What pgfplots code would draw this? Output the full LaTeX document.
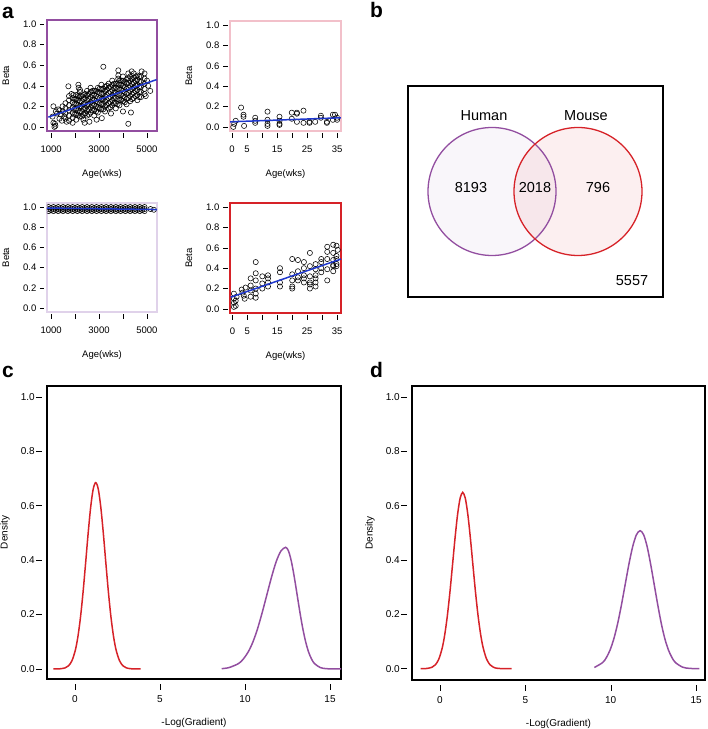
\documentclass[border=0pt]{standalone}
\usepackage{pgfplots}
\pgfplotsset{compat=1.18}
\usepackage{fontspec}
\setmainfont{Liberation Sans}
\definecolor{rpurple}{RGB}{146,78,160}
\definecolor{rred}{RGB}{214,34,40}
\definecolor{rpink}{RGB}{242,192,202}
\definecolor{rlav}{RGB}{224,210,234}
\definecolor{rblue}{RGB}{30,55,205}
\pgfplotsset{
  rbase/.style={scale only axis, tick pos=left, tick align=outside,
    tick style={black, line width=0.5pt},
    /pgf/number format/assume math mode=true,
    clip marker paths=true},
  small/.style={rbase, ymin=-0.04, ymax=1.04,
    ytick={0,0.2,0.4,0.6,0.8,1.0}, yticklabels={0.0,0.2,0.4,0.6,0.8,1.0},
    major tick length=4.5pt,
    x tick style={yshift=-2.5pt}, y tick style={xshift=-2.5pt},
    tick label style={font=\fontsize{9.5}{11}\selectfont},
    xticklabel style={anchor=north, inner sep=0pt, yshift=-10.5pt},
    yticklabel style={anchor=east, inner sep=0pt, xshift=-6pt},
    xlabel={Age(wks)}, ylabel={Beta},
    label style={font=\fontsize{9.5}{11}\selectfont},
    xlabel style={at={([yshift=-43pt]axis description cs:0.5,0)}, anchor=center},
    ylabel style={at={([xshift=-41pt]axis description cs:0,0.5)}, anchor=center}},
  dens/.style={rbase, xtick={0,5,10,15},
    ytick={0,0.2,0.4,0.6,0.8,1.0}, yticklabels={0.0,0.2,0.4,0.6,0.8,1.0},
    xticklabels={0,5,10,15},
    major tick length=6pt,
    x tick style={yshift=-4.5pt}, y tick style={xshift=-5pt},
    axis line style={black, line width=1.6pt},
    tick label style={font=\fontsize{10}{12}\selectfont},
    xticklabel style={anchor=north, inner sep=0pt, yshift=-10.5pt},
    yticklabel style={anchor=east, inner sep=0pt, xshift=-6pt},
    xlabel={-Log(Gradient)}, ylabel={Density},
    label style={font=\fontsize{10}{12}\selectfont},
    xlabel style={at={([yshift=-44pt]axis description cs:0.5,0)}, anchor=center},
    ylabel style={at={([xshift=-42pt]axis description cs:0,0.5)}, anchor=center}},
  scat/.style={only marks, mark=o, mark size=2.6pt, mark options={black, line width=0.55pt}},
  fit/.style={rblue, line width=1.5pt, no marks},
}
\begin{document}
\begin{tikzpicture}
\path[use as bounding box] (0,0) rectangle (708pt,729pt);
% ---------- a: top left (human, aging) ----------
\begin{axis}[small, at={(47pt,598pt)}, anchor=south west, width=110pt, height=111pt,
  xmin=830, xmax=5420, xtick={1000,2000,3000,4000,5000}, xticklabels={1000,,3000,,5000},
  axis line style={rpurple, line width=1.2pt}]
\addplot[scat] coordinates {
(1060,0.10)(1097,0.20)(1097,0.04)(1139,0.00)(1180,0.01)(1160,0.03)(1250,0.13)(1300,0.17)
(1350,0.08)(1400,0.12)(1450,0.06)(1500,0.15)(1550,0.10)(1480,0.20)(1650,0.05)(1722,0.395)
(1750,0.30)(1850,0.32)(1200,0.15)(1350,0.16)
(1600,0.08)(1600,0.13)(1600,0.18)(1600,0.23)
(1750,0.06)(1750,0.11)(1750,0.16)(1750,0.21)(1750,0.26)
(1900,0.04)(1900,0.09)(1900,0.14)(1900,0.19)(1900,0.24)(1900,0.28)
(1975,0.12)(1975,0.17)(1975,0.22)(1975,0.27)
(2050,0.07)(2050,0.12)(2050,0.17)(2050,0.22)(2050,0.27)(2050,0.31)
(2200,0.10)(2200,0.15)(2200,0.20)(2200,0.25)(2200,0.30)(2200,0.34)
(2350,0.07)(2350,0.12)(2350,0.17)(2350,0.22)(2350,0.27)(2350,0.31)
(2500,0.11)(2500,0.16)(2500,0.21)(2500,0.26)(2500,0.31)(2500,0.35)
(2650,0.14)(2650,0.19)(2650,0.24)(2650,0.29)(2650,0.34)(2650,0.38)
(2800,0.11)(2800,0.16)(2800,0.21)(2800,0.26)(2800,0.31)(2800,0.35)
(2950,0.14)(2950,0.19)(2950,0.24)(2950,0.29)(2950,0.34)(2950,0.38)
(3100,0.17)(3100,0.22)(3100,0.27)(3100,0.32)(3100,0.37)(3100,0.41)
(3250,0.15)(3250,0.20)(3250,0.25)(3250,0.30)(3250,0.35)(3250,0.39)
(3400,0.18)(3400,0.23)(3400,0.28)(3400,0.33)(3400,0.38)(3400,0.42)
(3550,0.21)(3550,0.26)(3550,0.31)(3550,0.36)(3550,0.41)(3550,0.45)
(3700,0.18)(3700,0.23)(3700,0.28)(3700,0.33)(3700,0.38)(3700,0.42)
(3850,0.21)(3850,0.26)(3850,0.31)(3850,0.36)(3850,0.41)(3850,0.45)
(4000,0.25)(4000,0.30)(4000,0.35)(4000,0.40)(4000,0.45)(4000,0.49)
(4150,0.22)(4150,0.27)(4150,0.32)(4150,0.37)(4150,0.42)(4150,0.46)
(4300,0.25)(4300,0.30)(4300,0.35)(4300,0.40)(4300,0.45)(4300,0.49)
(4450,0.28)(4450,0.33)(4450,0.38)(4450,0.43)(4450,0.48)(4450,0.52)
(4600,0.26)(4600,0.31)(4600,0.36)(4600,0.41)(4600,0.46)(4600,0.50)
(4750,0.29)(4750,0.34)(4750,0.39)(4750,0.44)(4750,0.49)
(4900,0.32)(4900,0.37)(4900,0.42)(4900,0.47)
(2125,0.11)(2125,0.16)(2125,0.21)(2125,0.26)(2125,0.30)
(2425,0.13)(2425,0.18)(2425,0.23)(2425,0.28)(2425,0.32)
(2725,0.16)(2725,0.21)(2725,0.26)(2725,0.31)(2725,0.35)
(3025,0.18)(3025,0.23)(3025,0.28)(3025,0.33)(3025,0.37)
(3325,0.21)(3325,0.26)(3325,0.31)(3325,0.36)(3325,0.40)
(3625,0.23)(3625,0.28)(3625,0.33)(3625,0.38)(3625,0.42)
(3925,0.26)(3925,0.31)(3925,0.36)(3925,0.41)(3925,0.45)
(4225,0.28)(4225,0.33)(4225,0.38)(4225,0.43)(4225,0.47)
(4525,0.30)(4525,0.35)(4525,0.40)(4525,0.45)(4525,0.49)
(2275,0.10)(2275,0.15)(2275,0.20)(2275,0.25)(2275,0.30)
(2575,0.12)(2575,0.17)(2575,0.22)(2575,0.27)(2575,0.32)
(2875,0.15)(2875,0.20)(2875,0.25)(2875,0.30)(2875,0.35)
(3175,0.17)(3175,0.22)(3175,0.27)(3175,0.32)(3175,0.37)
(3475,0.19)(3475,0.24)(3475,0.29)(3475,0.34)(3475,0.39)
(3775,0.22)(3775,0.27)(3775,0.32)(3775,0.37)(3775,0.42)
(4075,0.24)(4075,0.29)(4075,0.34)(4075,0.39)(4075,0.44)
(4375,0.27)(4375,0.32)(4375,0.37)(4375,0.42)(4375,0.47)
(4675,0.29)(4675,0.34)(4675,0.39)(4675,0.44)(4675,0.49)
(3180,0.585)(3806,0.55)(3806,0.50)(3800,0.47)(2139,0.41)(2150,0.38)(1930,0.31)(2208,0.36)
(3118,0.085)(4222,0.03)(4333,0.14)(5139,0.35)(4778,0.54)(4361,0.54)(4222,0.52)(4900,0.52)
(5000,0.45)(5050,0.40)(4950,0.30)(2600,0.05)(2900,0.07)(3500,0.13)(4000,0.15)(2400,0.04)
};
\addplot[fit] coordinates {(887,0.095) (5404,0.46)};
\end{axis}
% ---------- a: top right (mouse, null) ----------
\begin{axis}[small, at={(230pt,598pt)}, anchor=south west, width=111pt, height=110pt,
  xmin=-0.7, xmax=36.3, xtick={0,5,10,15,20,25,30,35}, xticklabels={0,5,,15,,25,,35},
  axis line style={rpink, line width=1.2pt}]
\addplot[scat] coordinates {
(0.4,0.00)(0.7,0.03)(1.2,0.06)(3,0.19)(3.8,0.12)(3.8,0.10)(4,0.01)
(7.7,0.09)(7.7,0.06)(7.7,0.04)(11.8,0.15)(11.8,0.07)(11.8,0.03)(11.8,0.01)
(15.8,0.10)(15.8,0.06)(15.8,0.03)(15.8,0.02)(19.9,0.14)(19.9,0.08)
(21.6,0.13)(21.6,0.14)(21.6,0.05)(23.8,0.16)(23.8,0.04)(25.8,0.05)(25.8,0.04)
(27.7,0.05)(29.6,0.11)(29.6,0.09)(31.6,0.04)(31.6,0.05)(33.6,0.12)(33.6,0.07)
(34.3,0.12)(35,0.09)(35,0.07)
};
\addplot[fit] coordinates {(-0.7,0.05) (36.3,0.09)};
\end{axis}
% ---------- a: bottom left (human, constant) ----------
\begin{axis}[small, at={(47pt,417pt)}, anchor=south west, width=110pt, height=109pt,
  xmin=830, xmax=5420, xtick={1000,2000,3000,4000,5000}, xticklabels={1000,,3000,,5000},
  axis line style={rlav, line width=1.2pt}]
\addplot[scat] coordinates {
(900,0.96)(900,0.98)(900,1.00)(1000,0.97)(1000,0.99)(1100,0.96)(1100,0.98)(1100,1.00)
(1200,0.97)(1200,0.99)(1300,0.96)(1300,0.98)(1300,1.00)(1400,0.97)(1400,0.99)
(1500,0.96)(1500,0.98)(1500,1.00)(1600,0.97)(1600,0.99)(1700,0.96)(1700,0.98)(1700,1.00)
(1800,0.97)(1800,0.99)(1900,0.96)(1900,0.98)(1900,1.00)(2000,0.97)(2000,0.99)
(2100,0.96)(2100,0.98)(2100,1.00)(2200,0.97)(2200,0.99)(2300,0.96)(2300,0.98)(2300,1.00)
(2400,0.97)(2400,0.99)(2500,0.96)(2500,0.98)(2500,1.00)(2600,0.97)(2600,0.99)
(2700,0.96)(2700,0.98)(2700,1.00)(2800,0.97)(2800,0.99)(2900,0.96)(2900,0.98)(2900,1.00)
(3000,0.97)(3000,0.99)(3100,0.96)(3100,0.98)(3100,1.00)(3200,0.97)(3200,0.99)
(3300,0.96)(3300,0.98)(3300,1.00)(3400,0.97)(3400,0.99)(3500,0.96)(3500,0.98)(3500,1.00)
(3600,0.97)(3600,0.99)(3700,0.96)(3700,0.98)(3700,1.00)(3800,0.97)(3800,0.99)
(3900,0.96)(3900,0.98)(3900,1.00)(4000,0.97)(4000,0.99)(4100,0.96)(4100,0.98)(4100,1.00)
(4200,0.97)(4200,0.99)(4300,0.96)(4300,0.98)(4300,1.00)(4400,0.97)(4400,0.99)
(4500,0.96)(4500,0.98)(4500,1.00)(4600,0.97)(4600,0.99)(4700,0.96)(4700,0.98)(4700,1.00)
(4800,0.97)(4800,0.99)(4900,0.96)(4900,0.98)(4900,1.00)(5150,0.98)(5290,0.973)
};
\addplot[fit] coordinates {(830,0.99) (5420,0.975)};
\end{axis}
% ---------- a: bottom right (mouse, aging) ----------
\begin{axis}[small, at={(230pt,416pt)}, anchor=south west, width=111pt, height=110pt,
  xmin=-0.8, xmax=36.3, xtick={0,5,10,15,20,25,30,35}, xticklabels={0,5,,15,,25,,35},
  axis line style={rred, line width=1.2pt}]
\addplot[scat] coordinates {
(0.5,0.15)(0.5,0.10)(0.5,0.06)(0.5,0.02)(1.1,0.03)(1.1,0.08)(1.4,0.12)
(3.1,0.19)(3.4,0.16)(3.8,0.13)(4.1,0.10)(4.4,0.21)
(6.1,0.30)(6.1,0.23)(6.1,0.18)(6.1,0.12)(7.8,0.46)(7.8,0.35)(7.8,0.28)(7.8,0.20)(7.8,0.15)(7.8,0.11)
(10,0.32)(10,0.25)(10,0.20)(11.9,0.33)(11.9,0.30)(11.9,0.26)(11.9,0.22)
(15.9,0.40)(15.9,0.36)(15.9,0.26)(15.9,0.22)
(20,0.49)(20,0.34)(20,0.28)(20,0.22)(20,0.20)
(21.9,0.48)(21.9,0.37)(21.9,0.31)(21.9,0.28)
(23.9,0.46)(23.9,0.40)(23.9,0.33)(23.9,0.26)(23.9,0.30)
(25.9,0.55)(25.9,0.42)(25.9,0.32)(25.9,0.24)(25.9,0.20)(25.9,0.26)
(27.8,0.44)(27.8,0.39)(27.8,0.30)(27.8,0.26)(27.8,0.22)(27.8,0.33)
(29.7,0.49)(29.7,0.46)(29.7,0.40)(29.7,0.36)
(31.7,0.61)(31.7,0.56)(31.7,0.49)(31.7,0.39)(31.7,0.28)
(33.7,0.63)(33.7,0.55)(33.7,0.48)(33.7,0.42)(33.7,0.37)(33.7,0.43)
(34.8,0.62)(34.8,0.52)(34.8,0.44)(34.8,0.42)(34.8,0.49)(35.2,0.58)
};
\addplot[fit] coordinates {(-0.6,0.115) (36.3,0.49)};
\end{axis}
% ---------- b: Venn ----------
\begin{axis}[at={(408pt,432pt)}, anchor=south west, scale only axis, width=255pt, height=211pt,
  xmin=408, xmax=663, ymin=432, ymax=643, xtick=\empty, ytick=\empty,
  axis line style={black, line width=1.3pt}, clip=false]
\addplot[draw=none, forget plot] coordinates {(408,432) (663,643)};
\fill[rpurple, fill opacity=0.05] (axis cs:492,537.5) circle[radius=64];
\fill[rred, fill opacity=0.07] (axis cs:578,537.5) circle[radius=64];
\draw[rpurple, line width=1.3pt] (axis cs:492,537.5) circle[radius=64];
\draw[rred, line width=1.3pt] (axis cs:578,537.5) circle[radius=64];
\node[font=\fontsize{14.5}{17}\selectfont] at (axis cs:484,613) {Human};
\node[font=\fontsize{14.5}{17}\selectfont] at (axis cs:586,613) {Mouse};
\node[font=\fontsize{14.5}{17}\selectfont] at (axis cs:471,541) {8193};
\node[font=\fontsize{14.5}{17}\selectfont] at (axis cs:535,541) {2018};
\node[font=\fontsize{14.5}{17}\selectfont] at (axis cs:598,541) {796};
\node[font=\fontsize{14.5}{17}\selectfont] at (axis cs:632,448) {5557};
\end{axis}
% ---------- c ----------
\begin{axis}[dens, at={(47pt,50pt)}, anchor=south west, width=294pt, height=293pt,
  xmin=-1.647, xmax=15.647, ymin=-0.037, ymax=1.040]
\addplot[rred, line width=1.5pt, smooth] coordinates {
(-1.27,0.0000)(-0.88,0.0006)(-0.58,0.0039)(-0.38,0.0116)(-0.18,0.0301)(0.02,0.0690)
(0.17,0.1181)(0.32,0.1883)(0.47,0.2794)(0.62,0.3859)(0.77,0.4960)(0.92,0.5934)
(1.07,0.6609)(1.22,0.685)(1.37,0.6609)(1.52,0.5934)(1.67,0.4960)(1.82,0.3859)
(1.97,0.2794)(2.12,0.1883)(2.27,0.1181)(2.42,0.0690)(2.62,0.0301)(2.82,0.0116)
(3.02,0.0039)(3.32,0.0006)(3.86,0.0000)};
\addplot[rpurple, line width=1.5pt, smooth] coordinates {
(8.63,0.0010)(9.06,0.0050)(9.615,0.0196)(9.89,0.0356)(10.17,0.0605)(10.45,0.0967)
(10.725,0.1451)(11.00,0.2046)(11.28,0.2711)(11.56,0.3374)(11.835,0.3945)(12.11,0.4332)
(12.39,0.447)(12.56,0.4332)(12.73,0.3945)(12.90,0.3374)(13.07,0.2711)(13.24,0.2046)
(13.41,0.1451)(13.58,0.0967)(13.75,0.0605)(13.92,0.0356)(14.09,0.0196)(14.43,0.0050)
(14.77,0.0010)(15.2,0.0000)(15.65,0.0000)};
\end{axis}
% ---------- d ----------
\begin{axis}[dens, at={(412pt,49pt)}, anchor=south west, width=293pt, height=294pt,
  xmin=-1.64, xmax=15.52, ymin=-0.0416, ymax=1.0405]
\addplot[rred, line width=1.5pt, smooth] coordinates {
(-1.13,0.0000)(-0.77,0.0009)(-0.47,0.0053)(-0.27,0.0144)(-0.07,0.0352)(0.13,0.0763)
(0.28,0.1260)(0.43,0.1947)(0.58,0.2813)(0.73,0.3800)(0.88,0.4803)(1.03,0.5677)
(1.18,0.6277)(1.33,0.649)(1.48,0.6277)(1.63,0.5677)(1.78,0.4803)(1.93,0.3800)
(2.08,0.2813)(2.23,0.1947)(2.38,0.1260)(2.53,0.0763)(2.73,0.0352)(2.93,0.0144)
(3.13,0.0053)(3.43,0.0009)(4.2,0.0000)};
\addplot[rpurple, line width=1.5pt, smooth] coordinates {
(9.04,0.0045)(9.52,0.0223)(9.74,0.0404)(9.96,0.0687)(10.18,0.1099)(10.40,0.1649)
(10.62,0.2326)(10.84,0.3081)(11.06,0.3834)(11.28,0.4483)(11.50,0.4924)(11.72,0.508)
(11.93,0.4924)(12.135,0.4483)(12.34,0.3834)(12.55,0.3081)(12.76,0.2326)(12.965,0.1649)
(13.17,0.1099)(13.38,0.0687)(13.59,0.0404)(13.795,0.0223)(14.21,0.0056)(14.625,0.0011)
(15.19,0.0000)};
\end{axis}
% ---------- panel letters ----------
\node[anchor=base west, inner sep=0pt, font=\bfseries\fontsize{21}{24}\selectfont] at (2pt,710pt) {a};
\node[anchor=base west, inner sep=0pt, font=\bfseries\fontsize{21}{24}\selectfont] at (370pt,711pt) {b};
\node[anchor=base west, inner sep=0pt, font=\bfseries\fontsize{21}{24}\selectfont] at (2pt,351pt) {c};
\node[anchor=base west, inner sep=0pt, font=\bfseries\fontsize{21}{24}\selectfont] at (370pt,351pt) {d};
\end{tikzpicture}
\end{document}
